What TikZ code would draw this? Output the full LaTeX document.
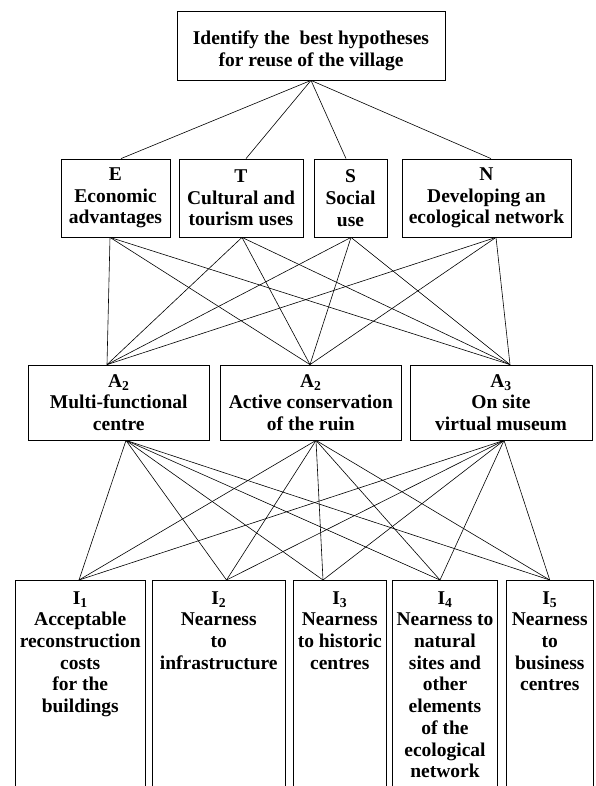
\documentclass[tikz,border=0pt]{standalone}
\usepackage{fontspec}
\setmainfont{Liberation Serif}
\begin{document}
\begin{tikzpicture}[x=1bp,y=-1bp,
  every node/.style={font=\fontsize{19.5bp}{21.7bp}\selectfont\bfseries, align=center, inner sep=0pt},
  box/.style={draw, line width=0.8bp},
  crit/.style={box, minimum height=78bp},
  alt/.style={box, minimum height=75bp},
  ind/.style={box, anchor=north, inner ysep=11bp, inner xsep=0pt},
  link/.style={line width=0.6bp}]
\useasboundingbox (0,0) rectangle (596,786);
\clip (0,0) rectangle (596,786);

% goal
\node[box, minimum width=268bp, minimum height=69bp] (G) at (311,45.5)
  {\rule{0pt}{25bp}Identify the~ best hypotheses\\for reuse of the village};

% criteria
\node[crit, minimum width=109bp] (E) at (115.5,198) {E\\Economic\\advantages};
\node[crit, minimum width=124bp] (T) at (241,198) {T\\Cultural and\\tourism uses};
\node[crit, minimum width=73bp] (S) at (350.5,198) {S\\Social\\use};
\node[crit, minimum width=169bp] (N) at (486.5,198) {N\\Developing an\\ecological network};

% alternatives
\node[alt, minimum width=180.5bp] (A1) at (118.75,402.5) {A\textsubscript{2}\\Multi-functional\\centre};
\node[alt, minimum width=181.6bp] (A2) at (310.8,402.5) {A\textsubscript{2}\\Active conservation\\of the ruin};
\node[alt, minimum width=182bp] (A3) at (501,402.5) {A\textsubscript{3}\\On site\\virtual museum};

% indicators
\node[ind, minimum width=130.5bp] (I1) at (80.25,580)
  {\parbox[t][200bp][t]{130bp}{\centering I\textsubscript{1}\\Acceptable\\reconstruction\\costs\\for the\\buildings}};
\node[ind, minimum width=133.5bp] (I2) at (218.75,580)
  {\parbox[t][200bp][t]{133bp}{\centering I\textsubscript{2}\\Nearness\\to\\infrastructure}};
\node[ind, minimum width=93.5bp] (I3) at (339.75,580)
  {\parbox[t][200bp][t]{93bp}{\centering I\textsubscript{3}\\Nearness\\to historic\\centres}};
\node[ind, minimum width=105bp] (I4) at (445,580)
  {\parbox[t][200bp][t]{105bp}{\centering I\textsubscript{4}\\Nearness to\\natural\\sites and\\other\\elements\\of the\\ecological\\network}};
\node[ind, minimum width=87.5bp] (I5) at (549.75,580)
  {\parbox[t][200bp][t]{87bp}{\centering I\textsubscript{5}\\Nearness\\to\\business\\centres}};

% attachment points
\coordinate (Et) at ([xshift=5.5bp]E.north);
\coordinate (Tt) at ([xshift=5bp]T.north);
\coordinate (St) at ([xshift=-4.5bp]S.north);
\coordinate (Nt) at ([xshift=4.5bp]N.north);
\coordinate (Eb) at ([xshift=-5.5bp]E.south);
\coordinate (Tb) at ([xshift=1bp]T.south);
\coordinate (Sb) at ([xshift=0.5bp]S.south);
\coordinate (Nb) at ([xshift=9.5bp]N.south);
\coordinate (A1t) at ([xshift=-11.75bp]A1.north);
\coordinate (A2t) at ([xshift=-0.8bp]A2.north);
\coordinate (A3t) at ([xshift=9bp]A3.north);
\coordinate (A1b) at ([xshift=7.25bp]A1.south);
\coordinate (A2b) at ([xshift=5.2bp]A2.south);
\coordinate (A3b) at ([xshift=3bp]A3.south);
\coordinate (I1t) at ([xshift=-1.25bp]I1.north);
\coordinate (I2t) at ([xshift=7.75bp]I2.north);
\coordinate (I3t) at ([xshift=-16.75bp]I3.north);
\coordinate (I4t) at ([xshift=-5bp]I4.north);
\coordinate (I5t) at (I5.north);

% connectors
\foreach \c in {Et,Tt,St,Nt} \draw[link] (G.south) -- (\c);
\foreach \c in {Eb,Tb,Sb,Nb}
  \foreach \a in {A1t,A2t,A3t} \draw[link] (\c) -- (\a);
\foreach \a in {A1b,A2b,A3b}
  \foreach \i in {I1t,I2t,I3t,I4t,I5t} \draw[link] (\a) -- (\i);
\end{tikzpicture}
\end{document}
